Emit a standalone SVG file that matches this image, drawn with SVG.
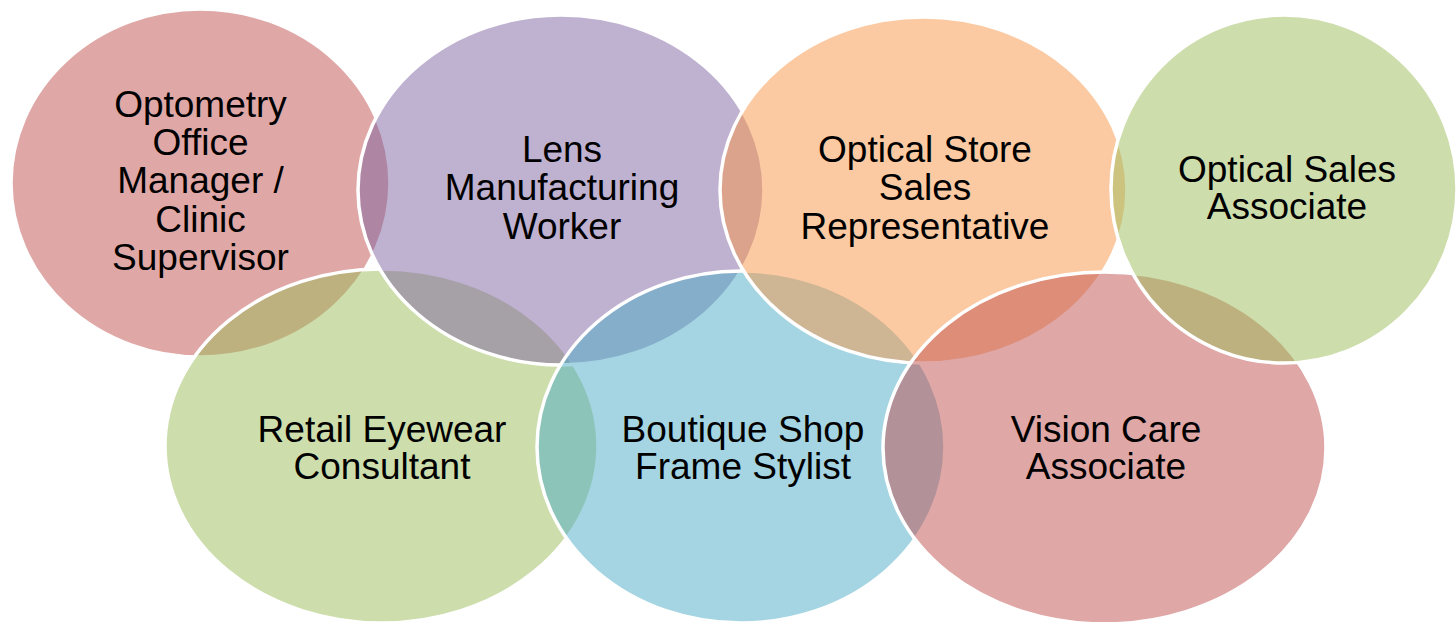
<svg xmlns="http://www.w3.org/2000/svg" width="1456" height="622" viewBox="0 0 1456 622">
<style>
.c{stroke:#FFFFFF;stroke-width:3.5;fill-opacity:0.5}
.red{fill:#C0504D}.pur{fill:#8064A2}.ora{fill:#F79646}.grn{fill:#9BBB59}.blu{fill:#4BACC6}
.t{font-family:"Liberation Sans",Arial,sans-serif;font-size:37px;fill:#000000;text-anchor:middle}
</style>
<rect width="1456" height="622" fill="#FFFFFF"/>
<g id="connectors"/>
<g id="n1">
<ellipse class="c red" cx="200.5" cy="183" rx="189.5" ry="174"/>
<text class="t" x="200.5"><tspan x="200.5" y="117">Optometry</tspan><tspan x="200.5" y="155">Office</tspan><tspan x="200.5" y="193">Manager /</tspan><tspan x="200.5" y="232">Clinic</tspan><tspan x="200.5" y="270">Supervisor</tspan></text>
</g>
<g id="n5">
<ellipse class="c grn" cx="381.5" cy="446" rx="216.5" ry="177"/>
<text class="t"><tspan x="382" y="442">Retail Eyewear</tspan><tspan x="382" y="479">Consultant</tspan></text>
</g>
<g id="n2">
<ellipse class="c pur" cx="561" cy="190" rx="203" ry="175"/>
<text class="t"><tspan x="562" y="162">Lens</tspan><tspan x="562" y="200">Manufacturing</tspan><tspan x="562" y="239">Worker</tspan></text>
</g>
<g id="n6">
<ellipse class="c blu" cx="741" cy="447" rx="204" ry="176"/>
<text class="t"><tspan x="743" y="442">Boutique Shop</tspan><tspan x="743" y="479">Frame Stylist</tspan></text>
</g>
<g id="n3">
<ellipse class="c ora" cx="923.5" cy="190" rx="203.5" ry="173"/>
<text class="t"><tspan x="925" y="162">Optical Store</tspan><tspan x="925" y="200">Sales</tspan><tspan x="925" y="239">Representative</tspan></text>
</g>
<g id="n7">
<ellipse class="c red" cx="1104.5" cy="448" rx="221.5" ry="176"/>
<text class="t"><tspan x="1106" y="442">Vision Care</tspan><tspan x="1106" y="479">Associate</tspan></text>
</g>
<g id="n4">
<ellipse class="c grn" cx="1284" cy="189" rx="173" ry="174"/>
<text class="t"><tspan x="1287" y="182">Optical Sales</tspan><tspan x="1287" y="219">Associate</tspan></text>
</g>
</svg>
